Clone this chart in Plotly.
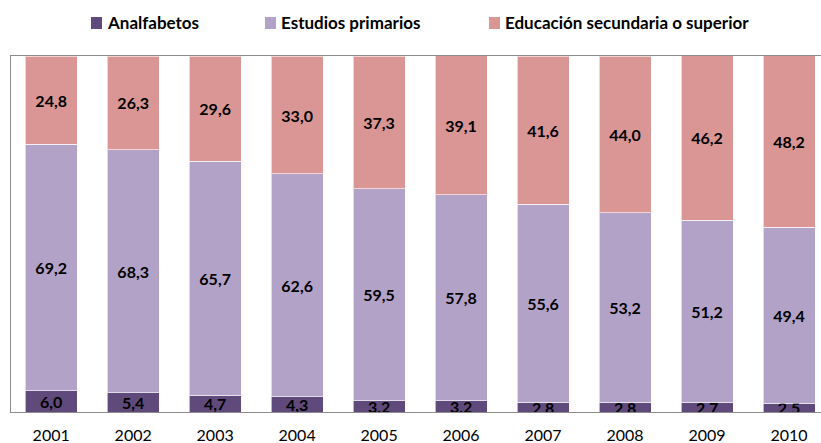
import plotly.graph_objects as go

years = ["2001", "2002", "2003", "2004", "2005", "2006", "2007", "2008", "2009", "2010"]
series = ["Analfabetos", "Estudios primarios", "Educación secundaria o superior"]
analfabetos = [6.0, 5.4, 4.7, 4.3, 3.2, 3.2, 2.8, 2.8, 2.7, 2.5]
primarios = [69.2, 68.3, 65.7, 62.6, 59.5, 57.8, 55.6, 53.2, 51.2, 49.4]
secundaria = [24.8, 26.3, 29.6, 33.0, 37.3, 39.1, 41.6, 44.0, 46.2, 48.2]
colors = ["#604A7B", "#B3A2C7", "#D99694"]

W, H = 821, 443
L, R, T, B = 11, 0, 56, 31
FONT = "Lato"

plot_w = W - L - R
plot_h = H - T - B


def px_to_paper_x(px):
    return (px - L) / plot_w


def px_to_paper_y(py):
    return (H - B - py) / plot_h


fig = go.Figure()
for name, vals, col in zip(series, [analfabetos, primarios, secundaria], colors):
    fig.add_trace(go.Bar(
        x=years,
        y=vals,
        name=name,
        marker=dict(color=col, line=dict(color="rgba(255,255,255,0.6)", width=1)),
        text=[f"{v:.1f}".replace(".", ",") for v in vals],
        textposition="inside",
        insidetextanchor="middle",
        constraintext="none",
        textangle=0,
        textfont=dict(family=FONT, size=16, color="black", weight="bold"),
        showlegend=False,
    ))

# legend drawn by hand so the items sit where the original has them
legend_x = [91, 265, 489]
for name, col, px in zip(series, colors, legend_x):
    fig.add_shape(type="rect", xref="paper", yref="paper",
                  x0=px_to_paper_x(px), x1=px_to_paper_x(px + 11),
                  y0=px_to_paper_y(29), y1=px_to_paper_y(17),
                  line=dict(width=0), fillcolor=col)
    fig.add_annotation(xref="paper", yref="paper",
                       x=px_to_paper_x(px + 14), y=px_to_paper_y(23),
                       xanchor="left", yanchor="middle", showarrow=False,
                       text=name,
                       font=dict(family=FONT, size=17, color="black", weight="bold"))

fig.update_layout(
    width=W, height=H,
    margin=dict(l=L, r=R, t=T, b=B, autoexpand=False),
    barmode="stack",
    bargap=0.365,
    plot_bgcolor="white",
    paper_bgcolor="white",
    font=dict(family=FONT, size=16, color="black"),
    xaxis=dict(
        range=[-0.49, 9.39], automargin=False,
        showline=True, mirror=True, linecolor="#8c8c8c", linewidth=1,
        ticks="", ticklabelstandoff=9,
        tickfont=dict(family=FONT, size=16, color="black"),
        showgrid=False,
    ),
    yaxis=dict(
        range=[0, 100], automargin=False,
        showline=True, mirror=False, linecolor="#8c8c8c", linewidth=1,
        showticklabels=False, ticks="", showgrid=False, zeroline=False,
    ),
)

# browser default body margin would shift the figure by 8px
fig.write_html("out.html", config={"displayModeBar": False},
               post_script="document.body.style.margin='0';")
